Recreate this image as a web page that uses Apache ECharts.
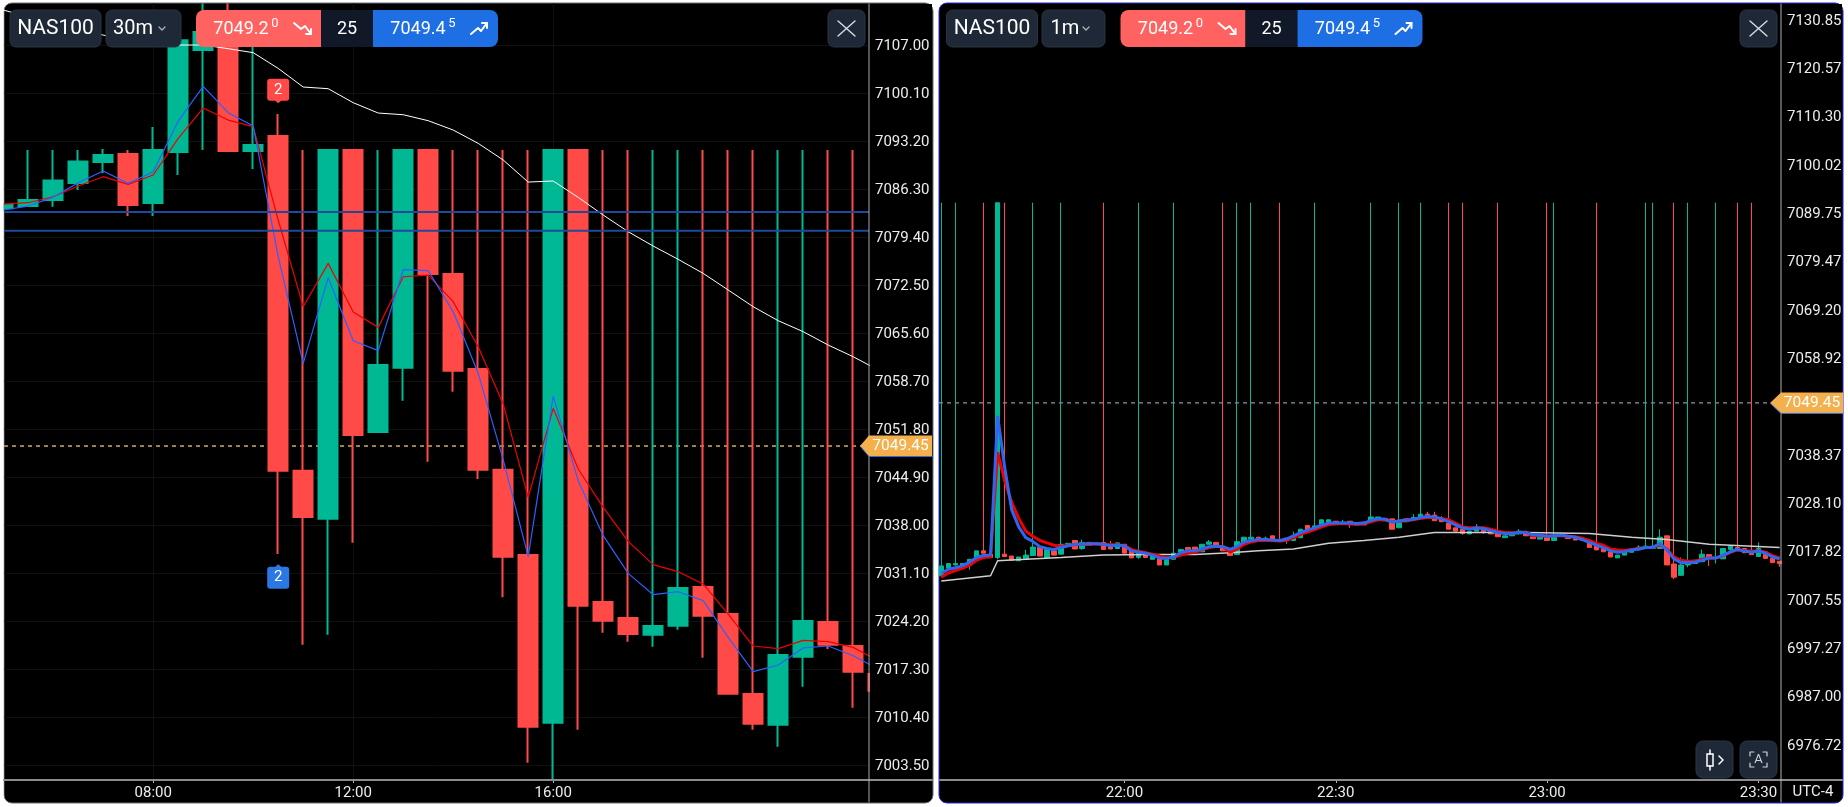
<!DOCTYPE html>
<html><head><meta charset="utf-8">
<style>html,body{margin:0;padding:0;background:#fff;overflow:hidden}#c{width:1848px;height:807px}</style>
<script src="https://cdn.jsdelivr.net/npm/echarts@6/dist/echarts.min.js"></script>
</head><body><div id="c"></div>
<script>
const symbolName = "NAS100";
const bidText = "7049.2", bidSup = "0", spreadText = "25", askText = "7049.4", askSup = "5";
const lastPrice = 7049.45;

// LEFT PANEL (30m) – first candle at minute 300 (05:00)
const leftStart = 300, leftStep = 30;
const leftTicks = [7107.00,7100.10,7093.20,7086.30,7079.40,7072.50,7065.60,7058.70,7051.80,7044.90,7038.00,7031.10,7024.20,7017.30,7010.40,7003.50];
const leftTimeTicks = [480,720,960];
const leftCandles = [ // open, close, low, high
[7083.62,7084.14,7083.62,7084.14],[7083.95,7084.82,7083.95,7092],[7084.82,7087.64,7083.86,7092],[7087.26,7090.37,7086.25,7092],
[7090.28,7091.28,7088.65,7092.15],[7091.43,7084.10,7082.52,7092],[7084.38,7092,7082.52,7095.31],[7091.72,7107.8,7088.41,7107.8],
[7106.38,7108.96,7092,7113.1],[7108.96,7091.86,7091.86,7113.1],[7091.86,7092.72,7089.27,7107],[7094.02,7045.91,7033.93,7097.18],
[7045.91,7039.25,7020.9,7092],[7039.01,7092,7022.33,7092],[7092,7051.03,7035.56,7092],[7051.47,7061.1,7051.47,7092],
[7060.71,7092,7055.97,7092],[7092,7074.18,7047.2,7092],[7074.18,7060.28,7057.26,7092],[7060.52,7046.05,7044.71,7092],
[7046.05,7033.55,7027.7,7092],[7033.78,7009.11,7003.93,7092],[7009.68,7092,7001.5,7092],[7092,7026.5,7008.68,7092],
[7027.03,7024.35,7022.62,7092],[7024.73,7022.43,7021.33,7092],[7022.33,7023.58,7020.61,7092],[7023.63,7029.04,7023.05,7092],
[7029.18,7025.06,7019.03,7092],[7025.3,7013.85,7013.85,7092],[7013.8,7009.54,7008.68,7092],[7009.4,7019.41,7006.23,7092],
[7019.17,7024.3,7014.86,7092],[7024.15,7020.9,7020.27,7092],[7020.7,7017.01,7011.84,7092],[7016.68,7014.28,7014.28,7092]];
const leftBlue = [7083.38,7083.95,7085.2,7087.31,7088.98,7087.21,7088.89,7096.17,7101.15,7097.37,7095.45,7076.67,7061.34,7073.65,7064.59,7063.16,7074.8,7074.66,7068.76,7059.9,7047.49,7033.55,7056.59,7044.47,7036.56,7031.15,7028.08,7028.51,7027.22,7021.95,7017.01,7017.97,7020.42,7020.7,7019.31,7017.4];
const leftRed = [7084.24,7084.43,7085.29,7086.83,7088.17,7087.07,7088.41,7093.68,7098.04,7096.31,7095.36,7081.94,7069.48,7075.71,7068.72,7066.51,7073.79,7074.03,7070.2,7063.73,7055.49,7042.07,7054.87,7046.15,7040.64,7035.75,7032.4,7031.39,7029.62,7025.3,7020.7,7020.32,7021.52,7021.33,7020.51,7018.6];
const leftWhite = [7112.13,7111.17,7110.21,7109.25,7108.53,7107.72,7107.34,7107.1,7107.1,7106.57,7106.0,7103.74,7101.06,7100.82,7098.81,7097.32,7097.08,7096.22,7094.88,7092.96,7090.57,7087.4,7087.55,7085.2,7082.66,7080.26,7078.2,7076.29,7074.27,7071.88,7069.48,7067.47,7065.89,7063.97,7062.29,7060.38];
const leftLevels = [7083.09,7080.4];

// RIGHT PANEL (1m) – first candle at minute 1294 (21:34)
const rightStart = 1294, rightStep = 1;
const rightTicks = [7130.85,7120.57,7110.30,7100.02,7089.75,7079.47,7069.20,7058.92,7038.37,7028.10,7017.82,7007.55,6997.27,6987.00,6976.72];
const rightTimeTicks = [1320,1350,1380,1410];
const rightCandles = [
[7012.7,7014.8,7012.5,7092],[7014.3,7015.3,7014.3,7015.3],[7015.0,7015.3,7014.9,7092],[7014.6,7015.3,7014.6,7015.4],
[7015.0,7016.2,7014.0,7016.2],[7016.2,7018.0,7016.2,7018.0],[7018.0,7017.5,7017.5,7092],[7017.3,7016.6,7016.6,7017.3],
[7016.6,7092,7016.2,7092],[7017.3,7016.8,7016.8,7092],[7016.9,7016.0,7016.0,7016.9],[7015.9,7016.7,7015.9,7016.7],
[7016.2,7017.1,7016.2,7018.2],[7017.0,7018.8,7017.0,7092],[7018.8,7016.9,7016.9,7018.8],[7016.6,7018.3,7016.6,7018.3],
[7018.0,7017.1,7017.1,7018.0],[7017.3,7019.4,7017.3,7092],[7018.9,7019.6,7018.9,7019.6],[7020.2,7018.4,7018.4,7020.2],
[7018.5,7019.8,7018.2,7020.4],[7019.8,7019.2,7019.2,7019.8],[7019.4,7019.7,7019.4,7019.7],[7019.8,7018.3,7018.3,7092],
[7019.2,7018.4,7018.4,7020.1],[7018.5,7019.7,7018.5,7019.7],[7019.4,7017.5,7017.5,7019.4],[7018.2,7016.5,7016.5,7018.2],
[7016.6,7017.5,7016.3,7092],[7017.5,7016.6,7016.6,7017.5],[7016.2,7016.9,7016.2,7016.9],[7016.4,7015.0,7015.0,7016.4],
[7015.0,7016.2,7015.0,7016.2],[7016.2,7017.5,7016.2,7092],[7017.6,7018.3,7017.6,7018.3],[7018.7,7018.2,7018.2,7018.7],
[7018.8,7018.0,7018.0,7018.8],[7017.8,7019.4,7017.8,7019.4],[7019.4,7019.9,7019.4,7020.3],[7019.8,7019.2,7019.2,7019.8],
[7018.7,7018.0,7018.0,7092],[7018.2,7017.0,7017.0,7018.2],[7017.2,7019.95,7017.2,7092],[7019.6,7020.9,7019.6,7020.9],
[7020.5,7020.9,7020.5,7092],[7020.9,7020.1,7020.1,7020.9],[7020.3,7020.7,7020.3,7021.0],[7021.2,7020.0,7020.0,7021.2],
[7020.2,7020.0,7020.0,7092],[7020.2,7020.7,7019.5,7020.7],[7020.2,7021.2,7020.2,7022.1],[7020.8,7022.6,7020.8,7022.6],
[7023.4,7022.4,7022.4,7023.4],[7022.6,7023.3,7022.6,7092],[7023.4,7024.6,7023.4,7024.6],[7024.1,7024.6,7024.1,7024.6],
[7024.3,7023.9,7023.9,7024.3],[7023.6,7024.1,7023.6,7024.6],[7024.3,7023.6,7022.9,7024.3],[7023.5,7023.9,7023.5,7023.9],
[7024.1,7023.5,7023.5,7024.1],[7024.4,7025.2,7024.4,7092],[7024.6,7025.2,7024.6,7025.2],[7024.9,7024.4,7024.4,7024.9],
[7024.8,7022.6,7022.6,7024.8],[7022.9,7024.2,7022.9,7092],[7024.8,7024.2,7024.2,7024.8],[7024.6,7025.1,7024.6,7025.8],
[7025.1,7025.8,7025.1,7092],[7025.8,7025.6,7025.6,7026.3],[7025.6,7024.4,7024.4,7026.3],[7024.7,7024.2,7024.2,7025.4],
[7023.9,7022.6,7022.6,7092],[7022.9,7022.2,7022.2,7022.9],[7022.6,7021.7,7021.4,7092],[7021.6,7022.1,7021.6,7022.1],
[7022.2,7022.9,7022.2,7023.7],[7022.4,7022.1,7021.6,7022.4],[7022.2,7021.6,7021.6,7022.2],[7021.7,7021.0,7021.0,7092],
[7020.8,7021.2,7020.8,7021.2],[7021.2,7021.7,7021.2,7021.7],[7021.6,7022.2,7021.6,7022.6],[7021.9,7021.2,7021.2,7021.9],
[7021.0,7020.6,7020.6,7021.0],[7020.5,7021.1,7020.5,7021.1],[7021.0,7020.2,7020.2,7092],[7020.2,7021.1,7020.2,7092],
[7021.2,7021.4,7021.2,7021.9],[7020.9,7020.6,7020.6,7020.9],[7020.6,7020.3,7020.3,7020.6],[7020.4,7020.2,7020.2,7020.4],
[7019.7,7018.7,7018.7,7019.7],[7019.0,7018.2,7018.2,7092],[7018.5,7017.8,7017.8,7018.5],[7017.8,7016.7,7016.7,7017.8],
[7016.5,7017.1,7016.5,7017.1],[7017.1,7017.7,7017.1,7017.7],[7017.7,7018.2,7017.7,7018.2],[7018.2,7018.8,7018.2,7019.2],
[7018.5,7019.0,7018.5,7092],[7018.5,7019.0,7018.5,7092],[7018.5,7020.9,7018.5,7022.6],[7021.2,7015.0,7015.0,7021.2],
[7015.2,7012.4,7012.0,7092],[7012.8,7015.0,7012.8,7016.6],[7015.0,7015.7,7014.5,7092],[7015.3,7016.0,7015.3,7016.0],
[7015.7,7017.3,7015.7,7018.3],[7017.2,7016.6,7014.8,7017.2],[7016.4,7016.6,7015.3,7092],[7016.3,7018.5,7016.3,7018.5],
[7018.3,7019.0,7018.3,7019.0],[7018.7,7018.2,7018.2,7092],[7018.5,7017.6,7017.6,7018.5],[7018.0,7017.2,7017.2,7092],
[7016.8,7018.5,7016.8,7019.8],[7017.8,7016.4,7016.4,7017.8],[7016.4,7015.5,7015.5,7016.4],[7015.8,7015.3,7014.6,7015.8]];
const rightBlue = [7013.2,7014.1,7014.4,7014.8,7015.6,7016.6,7017.0,7017.1,7046.7,7035.8,7026.7,7023.1,7020.8,7020.0,7018.9,7018.5,7018.3,7018.7,7019.1,7019.4,7019.4,7019.5,7019.5,7019.4,7019.1,7019.2,7019.1,7018.0,7017.7,7017.5,7017.1,7016.5,7016.4,7016.7,7017.6,7018.0,7018.0,7018.4,7018.9,7019.0,7018.9,
7018.3,7018.9,7019.9,7020.2,7020.4,7020.4,7020.3,7020.2,7020.5,7021.2,7021.9,7022.4,7022.9,7023.5,7023.9,7023.9,7023.9,7023.9,7023.8,7023.9,7024.5,7024.8,7024.7,7024.1,7024.4,7024.5,7024.7,7025.1,7025.3,7025.2,7024.8,7024.2,7023.5,7022.9,7022.6,7022.9,7022.7,7022.3,7021.9,7021.7,7021.7,7021.9,7021.9,
7021.4,7021.3,7021.1,7021.2,7021.3,7021.1,7020.9,7020.4,7019.8,7019.2,7018.7,7018.0,7017.7,7017.8,7018.2,7018.4,7018.7,7018.7,7019.6,7018.2,7016.3,7015.5,7015.5,7015.6,7016.0,7016.5,7016.5,7017.1,7017.8,7018.3,7018.0,7017.7,7018.0,7017.5,7016.7,7016.3];
const rightRed = [7012.4,7013.3,7013.8,7014.3,7014.9,7016.0,7016.6,7016.7,7039.0,7032.9,7028.3,7024.9,7022.2,7021.1,7020.2,7019.7,7019.2,7019.0,7019.2,7019.3,7019.4,7019.4,7019.5,7019.4,7019.3,7019.3,7019.1,7018.3,7017.9,7017.6,7017.3,7016.9,7016.6,7016.6,7017.1,7017.5,7017.7,7018.2,7018.7,7018.9,7018.9,
7017.7,7018.4,7019.4,7019.9,7020.2,7020.2,7020.2,7020.1,7020.2,7020.8,7021.5,7022.0,7022.5,7023.1,7023.6,7023.7,7023.8,7023.7,7023.6,7023.8,7024.2,7024.6,7024.6,7024.2,7024.3,7024.4,7024.6,7024.9,7025.1,7025.1,7024.9,7024.6,7023.9,7023.1,7022.9,7022.9,7022.9,7022.6,7022.2,7021.9,7021.8,7021.9,7022.0,
7021.2,7021.2,7021.1,7021.2,7021.2,7021.1,7021.0,7020.7,7020.2,7019.6,7019.2,7018.4,7018.2,7018.1,7018.3,7018.5,7018.7,7018.7,7019.3,7018.4,7016.7,7016.0,7015.8,7015.8,7016.2,7016.5,7016.5,7017.0,7017.7,7018.2,7018.1,7017.9,7018.0,7017.7,7017.0,7016.5];
const rightWhiteTime = [1294,1301,1302,1306,1311,1317,1324,1330,1335,1339,1344,1349,1354,1359,1364,1369,1374,1377,1386,1392,1397,1403,1413];
const rightWhite = [7011.6,7012.7,7015.9,7016.2,7016.6,7017.1,7017.2,7017.2,7017.6,7018.0,7018.4,7019.6,7020.2,7020.9,7021.9,7021.9,7021.9,7021.9,7021.7,7020.9,7020.4,7019.4,7018.7];

const GREEN="#00b894", RED="#ff4a47", ROB="Roboto, sans-serif", LBL='#ececec';
const fmtTime = m => String(Math.floor(m/60)).padStart(2,'0')+':'+String(m%60).padStart(2,'0');
const L = {left:4, top:3, w:865, h:777}, R = {left:939, top:3, w:842, h:777};
const pinDown='path://M3 0H19Q22 0 22 3V19Q22 22 19 22H14L11 24.5L8 22H3Q0 22 0 19V3Q0 0 3 0Z';
const pinUp='path://M3 24.5H19Q22 24.5 22 21.5V5.5Q22 2.5 19 2.5H14L11 0L8 2.5H3Q0 2.5 0 5.5V21.5Q0 24.5 3 24.5Z';

function timed(arr,start,step){return arr.map((v,i)=>[start+i*step,v]);}
function candleData(arr,start,step){return arr.map((c,i)=>[start+i*step].concat(c));}
function xA(idx,min,max,ticks){return {type:'value',gridIndex:idx,min,max,scale:true,
  axisLine:{show:false},axisTick:{show:true,customValues:ticks,length:3,lineStyle:{color:'#bbb'}},
  axisLabel:{customValues:ticks,formatter:fmtTime,color:LBL,fontFamily:ROB,fontSize:15,margin:6,hideOverlap:false},
  splitLine:idx===0?{show:true,customValues:ticks,lineStyle:{color:'#101010'}}:{show:false}};}
function xHidden(idx,min,max){return {type:'value',gridIndex:idx,min,max,scale:true,axisLine:{show:false},axisTick:{show:false},axisLabel:{show:false},splitLine:{show:false}};}
// base axis: scale and grid lines only, below the marks
function yGrid(idx,min,max,ticks,grid){return {type:'value',gridIndex:idx,position:'right',min,max,scale:true,
  axisLine:{show:false},axisTick:{show:grid,customValues:ticks,length:0},axisLabel:{show:false},
  splitLine:grid?{show:true,customValues:ticks,lineStyle:{color:'#101010'}}:{show:false}};}
// label axis: same scale, above the gutter mask
function yLabels(idx,min,max,ticks){return {type:'value',gridIndex:idx,position:'right',min,max,scale:true,z:10,
  axisLine:{show:false},axisTick:{show:false},splitLine:{show:false},
  axisLabel:{customValues:ticks,formatter:v=>v.toFixed(2),color:LBL,fontFamily:ROB,fontSize:15,margin:6,hideOverlap:false}};}
function candle(idx,data,w,bw,extra){return Object.assign({type:'candlestick',xAxisIndex:idx,yAxisIndex:idx,data,barWidth:w,z:3,
  itemStyle:{color:GREEN,color0:RED,borderColor:GREEN,borderColor0:RED,borderWidth:bw}},extra||{});}
function line(idx,data,color,width,z,type){return {type:'line',xAxisIndex:idx,yAxisIndex:idx,data,showSymbol:false,silent:true,z,clip:true,
  lineStyle:{color,width,type:type||'solid'}};}

const lMin=300.96,lMax=1338.96,rMin=1293.68,rMax=1413.2;
const series=[
  line(0,[[lMin,lastPrice],[lMax,lastPrice]],'#9c8453',2,1,[4,4]),
  line(1,[[rMin,lastPrice+0.05],[rMax,lastPrice+0.05]],'#a88a45',1,1,[4,4]),
  line(1,[[rMin,lastPrice-0.15],[rMax,lastPrice-0.15]],'#2a4f90',1,1,[4,4]),
  candle(0,candleData(leftCandles,leftStart,leftStep),20,2,{markPoint:{silent:true,animation:false,data:[
    {coord:[630,7100.49],symbol:pinDown,symbolSize:[22,24.5],itemStyle:{color:RED},label:{show:true,formatter:'2',color:'#fff',fontFamily:ROB,fontSize:15,offset:[0,-1]}},
    {coord:[630,7030.7],symbol:pinUp,symbolSize:[22,24.5],itemStyle:{color:'#2b78e4'},label:{show:true,formatter:'2',color:'#fff',fontFamily:ROB,fontSize:15,offset:[0,1]}}]}}),
  line(0,timed(leftWhite,leftStart,leftStep),'#ffffff',1,5),
  line(0,timed(leftRed,leftStart,leftStep),'#f00000',1.2,6),
  line(0,timed(leftBlue,leftStart,leftStep),'#2962ff',1.2,7),
  line(0,[[lMin,leftLevels[0]],[lMax,leftLevels[0]]],'#1f4a9a',2,8),
  line(0,[[lMin,leftLevels[1]],[lMax,leftLevels[1]]],'#1f4a9a',2,8),
  candle(1,candleData(rightCandles,rightStart,rightStep),5,1),
  line(1,rightWhiteTime.map((t,i)=>[t,rightWhite[i]]),'#cfcfcf',1.5,5),
  line(1,timed(rightRed,rightStart,rightStep),'#f00000',3,6),
  line(1,timed(rightBlue,rightStart,rightStep),'#2f66f0',3,7)
];

const chart=echarts.init(document.getElementById('c'),null,{renderer:'canvas'});
const option={animation:false,backgroundColor:'#ffffff',
  grid:[{left:L.left,top:L.top,width:L.w,height:L.h},{left:R.left,top:R.top,width:R.w,height:R.h},
        {left:L.left,top:L.top+1,width:L.w,height:L.h},{left:R.left,top:R.top+1,width:R.w,height:R.h}],
  xAxis:[xA(0,lMin,lMax,leftTimeTicks),xA(1,rMin,rMax,rightTimeTicks),xHidden(2,lMin,lMax),xHidden(3,rMin,rMax)],
  yAxis:[yGrid(0,7001.44,7113.14,leftTicks,true),yGrid(1,6969.29,7134.46,rightTicks,false),
         yLabels(2,7001.44,7113.14,leftTicks),yLabels(3,6969.29,7134.46,rightTicks)],
  series};
chart.setOption(option);

// chrome
const Z=100;
const rect=(x,y,w,h,fill,r,z,stroke)=>({type:'rect',z:z==null?Z:z,silent:true,shape:{x,y,width:w,height:h,r:r||0},style:{fill,stroke:stroke||'transparent',lineWidth:stroke?1:0}});
const text=(s,x,y,size,o)=>({type:'text',z:(o&&o.z)||Z+1,silent:true,style:Object.assign({text:s,x,y,fill:'#fff',font:size+'px Roboto, sans-serif',textAlign:'center',textVerticalAlign:'middle'},o||{})});
const seg=(pts,color,w,z)=>({type:'polyline',z:z||Z+1,silent:true,shape:{points:pts},style:{stroke:color,lineWidth:w,fill:null,lineCap:'round',lineJoin:'round'}});
const BTN='#1e2836', BTNB='#2a3442';

function toolbar(dx,nx,tfx,tfw,tf,tfTextX,chevX,closeX){
  const e=[];
  e.push(rect(nx,10,91,37,BTN,6,Z,BTNB)); e.push(text(symbolName,nx+45.5,29,21));
  e.push(rect(tfx,10,tfw,37,BTN,6,Z,BTNB)); e.push(text(tf,tfTextX,29,20));
  e.push(seg([[chevX-3,27],[chevX,30],[chevX+3,27]],'#aab2bd',1.3));
  e.push(rect(dx,10,125,37,'#ff6361',[8,0,0,8]));
  e.push(rect(dx+125,10,52,37,'#111827',0));
  e.push(rect(dx+177,10,125,37,'#1d6fe3',[0,8,8,0]));
  e.push(text(bidText,dx+45,29,18)); e.push(text(bidSup,dx+79,24,13));
  e.push(seg([[dx+98,23],[dx+105,29],[dx+109,26],[dx+115,34]],'#fff',2));
  e.push(seg([[dx+110,34],[dx+115,34],[dx+115,29]],'#fff',2));
  e.push(text(spreadText,dx+151,29,18));
  e.push(text(askText,dx+222,29,18)); e.push(text(askSup,dx+256,24,13));
  e.push(seg([[dx+275,34],[dx+282,28],[dx+285,31],[dx+291,23]],'#fff',2));
  e.push(seg([[dx+286,23],[dx+291,23],[dx+291,28]],'#fff',2));
  e.push(rect(closeX,10,37,37,BTN,6,Z,BTNB));
  e.push(seg([[closeX+10,21],[closeX+27,36]],'#d8dce2',1.4));
  e.push(seg([[closeX+27,21],[closeX+10,36]],'#d8dce2',1.4));
  return e;
}
function badge(tipX,axisX,endX,y){
  return [
    {type:'polygon',z:Z,silent:true,shape:{points:[[tipX,y],[axisX,y-10.5],[endX,y-10.5],[endX,y+10.5],[axisX,y+10.5]]},style:{fill:'#f4b04c'}},
    seg([[tipX+1,y+1],[axisX,y+10.5],[endX,y+10.5]],'#2f6fe0',1),
    text(lastPrice.toFixed(2),(axisX+endX)/2,y+0.5,15.5)
  ];
}
const yL=chart.convertToPixel({yAxisIndex:0},lastPrice), yR=chart.convertToPixel({yAxisIndex:1},lastPrice);
const g=[
  rect(4,3,929,800,'#000',8,-10,'#6a6f78'),
  rect(939,3,904,800,'#000',8,-10,'#2a2ad0'),
  // gutters hide the parts of marks that fall outside the plot areas
  rect(0,0,3.5,807,'#fff',0,9),
  rect(870,4,62,775,'#000',0,9),
  rect(1782,4,60,775,'#000',0,9),
  seg([[4,780],[932,780]],'#8c8c8c',2,20),
  seg([[940,780],[1842,780]],'#8c8c8c',2,20),
  seg([[869,4],[869,802]],'#a8a8a8',1,20),
  seg([[1781,4],[1781,802]],'#b0b0b0',1,20),
  ...toolbar(196,10,106,75,'30m',133,162,828),
  ...toolbar(1120.5,946.5,1042,63,'1m',1065,1086,1740),
  ...badge(860,869,932,yL),
  ...badge(1770,1781,1843,yR),
  text('UTC-4',1813,792,15,{fill:LBL}),
  rect(1696,741,37,37,BTN,7,Z,BTNB),
  rect(1740,741,37,37,BTN,7,Z,BTNB),
  {type:'rect',z:Z+1,silent:true,shape:{x:1707,y:754,width:6,height:12},style:{fill:null,stroke:'#fff',lineWidth:1.5}},
  seg([[1710,750],[1710,754]],'#fff',1.5), seg([[1710,766],[1710,770]],'#fff',1.5),
  seg([[1719,756],[1723,760],[1719,764]],'#fff',1.5),
  seg([[1750,756],[1750,752],[1754,752]],'#cfd3d8',1.2), seg([[1763,752],[1767,752],[1767,756]],'#cfd3d8',1.2),
  seg([[1750,763],[1750,767],[1754,767]],'#cfd3d8',1.2), seg([[1763,767],[1767,767],[1767,763]],'#cfd3d8',1.2),
  text('A',1758.5,759.5,13,{fill:'#cfd3d8'})
];
chart.setOption({graphic:{elements:g}});
</script></body></html>
